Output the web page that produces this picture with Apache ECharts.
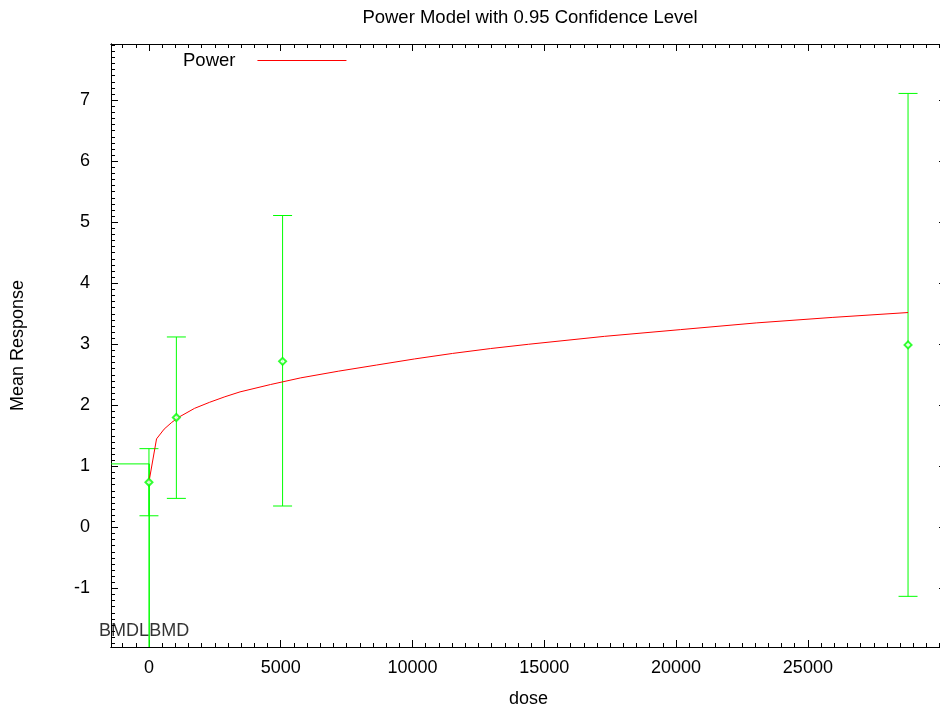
<!DOCTYPE html>
<html>
<head>
<meta charset="utf-8">
<script src="https://cdn.jsdelivr.net/npm/echarts@6/dist/echarts.min.js"></script>
<style>
html,body{margin:0;padding:0;background:#fff;}
#chart{width:940px;height:711px;}
</style>
</head>
<body>
<div id="chart"></div>
<script>
// ---- data ----
var obsDose = [0, 1040, 5070, 28800];
var obsMean = [0.74, 1.80, 2.72, 2.99];
var obsLow  = [0.19, 0.475, 0.35, -1.13];
var obsHigh = [1.29, 3.12, 5.11, 7.11];

var curveDose = [0, 288, 576, 864, 1152, 1728, 2304, 2880, 3456, 4608, 5760, 7200, 8640, 10080, 11520, 12960, 14400, 17280, 20160, 23040, 25920, 28800];
var curveResp = [0.745, 1.45, 1.61, 1.72, 1.81, 1.95, 2.05, 2.14, 2.22, 2.34, 2.45, 2.56, 2.66, 2.76, 2.85, 2.93, 3.00, 3.13, 3.24, 3.35, 3.44, 3.52];

var bmdResponse = 1.04;
var bmdDose = 14;
var bmdlDose = 3;
var bmdLabelY = -1.70;

var xTickValues = [0, 5000, 10000, 15000, 20000, 25000];
var yTickValues = [-1, 0, 1, 2, 3, 4, 5, 6, 7];

var XMIN = -1440, XMAX = 30240;
var YMIN = -1.96, YMAX = 7.92;

// minor tick positions
var xMinor = [];
for (var i = -2; i <= 60; i++) xMinor.push(i * 500);
var yMinor = [];
for (var j = -19; j <= 79; j++) yMinor.push(j / 10);

var FONT = 'Liberation Sans, Arial, Helvetica, sans-serif';
var BLACK = '#000';
var GREEN = '#00ff00';
var RED = '#ff0000';

function pairs(xs, ys) { return xs.map(function (x, k) { return [x, ys[k]]; }); }

function xAxisDef(pos, custom, len, labels) {
  return {
    type: 'value', position: pos, min: XMIN, max: XMAX, gridIndex: 0,
    axisLine: { show: true, onZero: false, lineStyle: { color: BLACK, width: 1 } },
    axisTick: { show: true, inside: true, length: len, customValues: custom, lineStyle: { color: BLACK, width: 1 } },
    axisLabel: labels ? { show: true, customValues: xTickValues, color: BLACK, fontSize: 18, fontFamily: FONT, margin: 12,
      formatter: function (v) { return String(v); } } : { show: false },
    splitLine: { show: false },
    name: labels ? 'dose' : '', nameLocation: 'middle', nameGap: 43,
    nameTextStyle: { color: BLACK, fontSize: 18, fontFamily: FONT }
  };
}
function yAxisDef(pos, custom, len, labels) {
  return {
    type: 'value', position: pos, min: YMIN, max: YMAX, gridIndex: 0,
    axisLine: { show: true, onZero: false, lineStyle: { color: BLACK, width: 1 } },
    axisTick: { show: true, inside: true, length: len, customValues: custom, lineStyle: { color: BLACK, width: 1 } },
    axisLabel: labels ? { show: true, customValues: yTickValues, color: BLACK, fontSize: 18, fontFamily: FONT, margin: 21,
      formatter: function (v) { return String(v); } } : { show: false },
    splitLine: { show: false },
    name: labels ? 'Mean Response' : '', nameLocation: 'middle', nameGap: 84, nameRotate: 90,
    nameTextStyle: { color: BLACK, fontSize: 18, fontFamily: FONT }
  };
}

var chart = echarts.init(document.getElementById('chart'), null, { renderer: 'canvas' });
var option = {
  backgroundColor: '#fff',
  animation: false,
  title: {
    text: 'Power Model with 0.95 Confidence Level',
    left: 525, top: 3, textAlign: 'center',
    textStyle: { color: BLACK, fontSize: 18.5, fontWeight: 'normal', fontFamily: FONT }
  },
  legend: {
    left: 178, top: 46, align: 'right',
    itemWidth: 89, itemHeight: 1, icon: 'rect',
    textStyle: { color: BLACK, fontSize: 18.5, fontFamily: FONT, padding: [0, 17, 0, 0] },
    data: [{ name: 'Power', itemStyle: { color: RED } }]
  },
  grid: { left: 111, top: 44, width: 835, height: 603, containLabel: false, outerBoundsMode: 'none' },
  xAxis: [
    xAxisDef('bottom', xTickValues, 7, true),
    xAxisDef('bottom', xMinor, 4, false),
    xAxisDef('top', xTickValues, 7, false),
    xAxisDef('top', xMinor, 4, false)
  ],
  yAxis: [
    yAxisDef('left', yTickValues, 7, true),
    yAxisDef('left', yMinor, 4, false),
    yAxisDef('right', yTickValues, 7, false),
    yAxisDef('right', yMinor, 4, false)
  ],
  series: [
    {
      name: 'Power', type: 'line', xAxisIndex: 0, yAxisIndex: 0,
      data: pairs(curveDose, curveResp), showSymbol: false, symbol: 'none',
      lineStyle: { color: RED, width: 1 }, itemStyle: { color: RED }, z: 3
    },
    {
      name: 'bmdLine', type: 'line', xAxisIndex: 0, yAxisIndex: 0,
      data: [[XMIN, bmdResponse], [bmdDose, bmdResponse], [bmdDose, YMIN]],
      showSymbol: false, symbol: 'none', lineStyle: { color: GREEN, width: 1 }, z: 2
    },
    {
      name: 'bmdlLine', type: 'line', xAxisIndex: 0, yAxisIndex: 0,
      data: [[bmdlDose, bmdResponse], [bmdlDose, YMIN]],
      showSymbol: false, symbol: 'none', lineStyle: { color: GREEN, width: 1 }, z: 2
    },
    {
      name: 'errorBars', type: 'custom', xAxisIndex: 0, yAxisIndex: 0,
      data: obsDose.map(function (d, k) { return [d, obsLow[k], obsHigh[k]]; }),
      renderItem: function (params, api) {
        var lo = api.coord([api.value(0), api.value(1)]);
        var hi = api.coord([api.value(0), api.value(2)]);
        var hw = 9.5;
        var st = { stroke: GREEN, lineWidth: 1 };
        return {
          type: 'group',
          children: [
            { type: 'line', shape: { x1: lo[0], y1: lo[1], x2: hi[0], y2: hi[1] }, style: st },
            { type: 'line', shape: { x1: lo[0] - hw, y1: lo[1], x2: lo[0] + hw, y2: lo[1] }, style: st },
            { type: 'line', shape: { x1: hi[0] - hw, y1: hi[1], x2: hi[0] + hw, y2: hi[1] }, style: st }
          ]
        };
      },
      z: 2
    },
    {
      name: 'means', type: 'scatter', xAxisIndex: 0, yAxisIndex: 0,
      data: pairs(obsDose, obsMean), symbol: 'emptyDiamond', symbolSize: 7,
      itemStyle: { color: GREEN, borderColor: GREEN, borderWidth: 1.2 }, z: 4
    },
    {
      name: 'labels', type: 'scatter', xAxisIndex: 0, yAxisIndex: 0,
      data: [
        { value: [bmdlDose, bmdLabelY], label: { show: true, formatter: 'BMDL', position: 'left', distance: 0 } },
        { value: [bmdDose, bmdLabelY], label: { show: true, formatter: 'BMD', position: 'right', distance: 0 } }
      ],
      symbolSize: 0.01, itemStyle: { color: 'rgba(0,0,0,0)' },
      label: { color: BLACK, fontSize: 18, fontFamily: FONT },
      z: 5
    }
  ]
};
chart.setOption(option);
</script>
</body>
</html>
